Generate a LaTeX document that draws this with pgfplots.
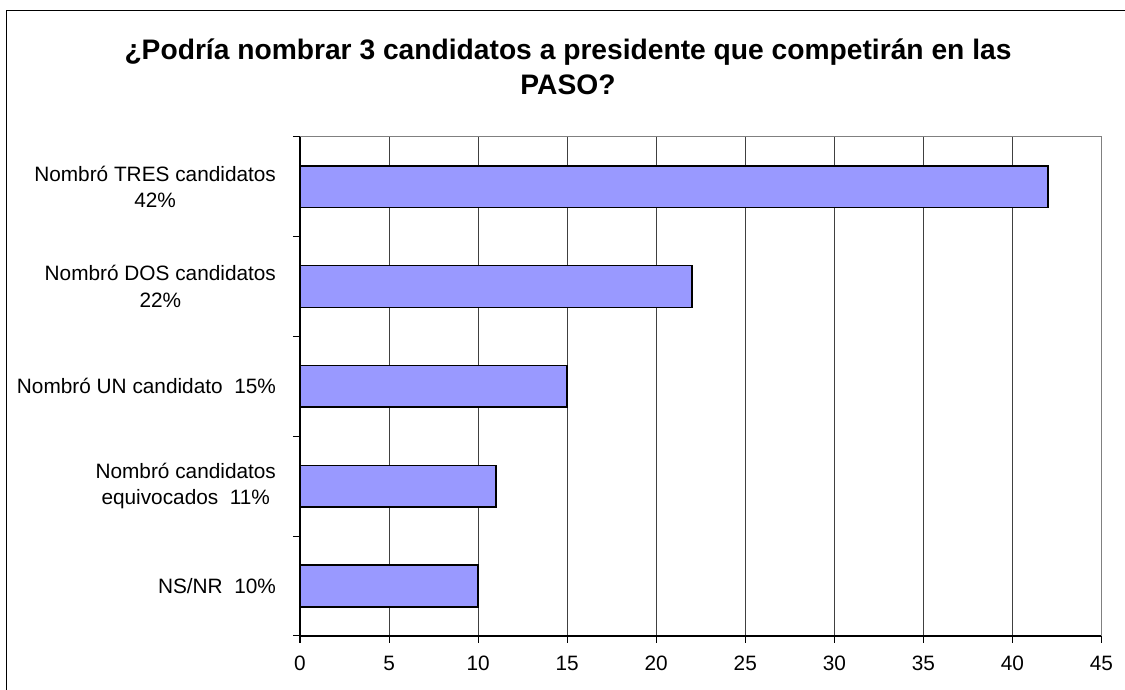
\documentclass[border=0pt]{standalone}
\usepackage{fontspec}
\setmainfont{Liberation Sans}
\usepackage{pgfplots}
\pgfplotsset{compat=1.18}

\definecolor{barfill}{HTML}{9999FF}
\definecolor{gridc}{HTML}{404040}
\definecolor{framec}{HTML}{808080}

\begin{document}
\begin{tikzpicture}
\useasboundingbox (0,0) rectangle (562.5pt,345pt);
% outer chart frame (cut by the page on the right and at the bottom)
\draw[line width=0.75pt] (3.25pt,-10pt) -- (3.25pt,339.75pt) -- (600pt,339.75pt);
\node[font=\fontsize{14.1}{17}\selectfont\bfseries, anchor=base] at (284pt,315.25pt)
  {¿Podría nombrar 3 candidatos a presidente que competirán en las};
\node[font=\fontsize{14.1}{17}\selectfont\bfseries, anchor=base] at (284pt,297.85pt)
  {PASO?};
\begin{axis}[
  at={(150pt,27pt)}, anchor=south west,
  scale only axis, width=400.75pt, height=249.65pt,
  xmin=0, xmax=45, ymin=0.5, ymax=5.5,
  xtick={0,5,...,45},
  ytick={1,2,3,4,5},
  minor ytick={0.5,1.5,...,5.5},
  yticklabels={
    NS/NR~\ 10\%,
    {Nombró candidatos\\equivocados~\ 11\%},
    Nombró UN candidato~\ 15\%,
    {Nombró DOS candidatos\\22\%},
    {Nombró TRES candidatos\\42\%}},
  axis lines=left, axis line style={-, black, line width=0.6pt},
  xmajorgrids, grid style={gridc, line width=0.5pt},
  tick align=outside,
  major tick length=3.5pt,
  minor tick length=3.5pt,
  ytick style={draw=none},
  minor y tick style={draw=black, line width=0.5pt},
  xtick style={black, line width=0.5pt},
  tick label style={font=\fontsize{10.4}{13.2}\selectfont},
  yticklabel style={align=center, xshift=-5pt},
  xticklabel style={yshift=-3pt},
  /pgf/number format/assume math mode=true,
  clip=false,
]
\draw[framec, line width=0.6pt] (rel axis cs:0,1) -- (rel axis cs:1,1) -- (rel axis cs:1,0);
\addplot[xbar, bar width=20.85pt, fill=barfill, draw=black, line width=0.8pt]
  coordinates {(42,5) (22,4) (15,3) (11,2) (10,1)};
\end{axis}
\end{tikzpicture}
\end{document}
